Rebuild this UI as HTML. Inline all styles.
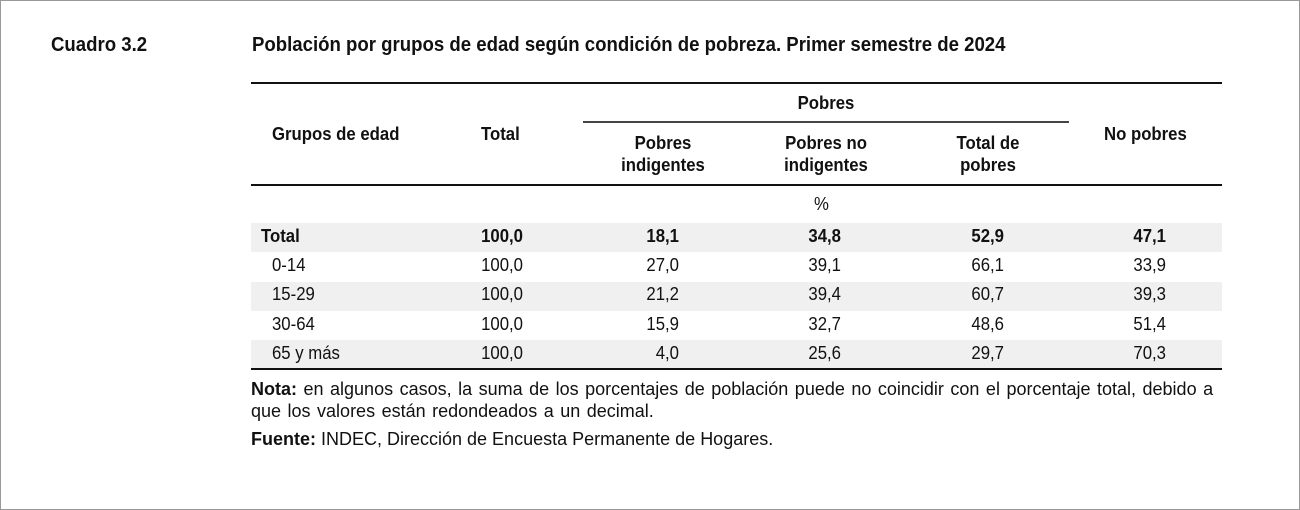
<!DOCTYPE html>
<html><head><meta charset="utf-8"><style>
body{margin:0;background:#fff;}
#p{position:relative;width:1298px;height:508px;border:1px solid #999;overflow:hidden;font-family:"Liberation Sans Narrow","Liberation Sans",sans-serif;color:#111;}
.t{position:absolute;white-space:nowrap;transform:scaleX(0.93);transform-origin:left top;}
.b{font-weight:bold;}
.n{font-size:18px;}
.r{text-align:right;transform-origin:right top;}
.c{text-align:center;transform-origin:center top;}
.rule{position:absolute;background:#111;}
.band{position:absolute;left:250px;width:971px;background:#f0f0f0;}
.reg{font-family:"Liberation Sans",sans-serif;font-size:18px;transform:none;word-spacing:1.5px;}
</style></head><body><div id="p">
<div class="t b" style="left:50px;top:33px;font-size:20px;">Cuadro 3.2</div>
<div class="t b" style="left:251px;top:33px;font-size:20px;">Población por grupos de edad según condición de pobreza. Primer semestre de 2024</div>
<div class="rule" style="left:250px;top:81px;width:971px;height:2px;"></div>
<div class="rule" style="left:582px;top:120px;width:486px;height:2px;background:#444"></div>
<div class="rule" style="left:250px;top:183px;width:971px;height:2px;"></div>
<div class="rule" style="left:250px;top:367px;width:971px;height:2px;"></div>
<div class="t b n c" style="left:582px;width:486px;top:92px;">Pobres</div>
<div class="t b n" style="left:271px;top:123px;">Grupos de edad</div>
<div class="t b n" style="left:480px;top:123px;">Total</div>
<div class="t b n c" style="left:582px;width:160px;top:131px;line-height:22px;">Pobres<br>indigentes</div>
<div class="t b n c" style="left:745px;width:160px;top:131px;line-height:22px;">Pobres no<br>indigentes</div>
<div class="t b n c" style="left:907px;width:160px;top:131px;line-height:22px;">Total de<br>pobres</div>
<div class="t b n" style="left:1103px;top:123px;">No pobres</div>
<div class="t n" style="left:813px;top:193px;">%</div>
<div class="band" style="top:222px;height:29px;"></div>
<div class="band" style="top:281px;height:29px;"></div>
<div class="band" style="top:339px;height:28px;"></div>
<div id="rows"></div>
<div class="t reg" style="left:250px;top:377px;line-height:22px;"><b>Nota:</b> en algunos casos, la suma de los porcentajes de población puede no coincidir con el porcentaje total, debido a<br>que los valores están redondeados a un decimal.</div>
<div class="t reg" style="left:250px;top:428px;word-spacing:0;"><b>Fuente:</b> INDEC, Dirección de Encuesta Permanente de Hogares.</div>
<script>
var d=[["Total","100,0","18,1","34,8","52,9","47,1"],["0-14","100,0","27,0","39,1","66,1","33,9"],["15-29","100,0","21,2","39,4","60,7","39,3"],["30-64","100,0","15,9","32,7","48,6","51,4"],["65 y más","100,0","4,0","25,6","29,7","70,3"]];
var rx=[522,678,840,1003,1165],h="";
d.forEach(function(r,i){var y=225+i*29.2,bo=i==0?" b":"";
h+='<div class="t n'+bo+'" style="left:'+(i==0?260:271)+'px;top:'+y+'px">'+r[0]+'</div>';
for(var j=1;j<6;j++)h+='<div class="t n r'+bo+'" style="left:'+(rx[j-1]-100)+'px;width:100px;top:'+y+'px">'+r[j]+'</div>';});
document.getElementById("rows").innerHTML=h;
</script>
</div></body></html>
